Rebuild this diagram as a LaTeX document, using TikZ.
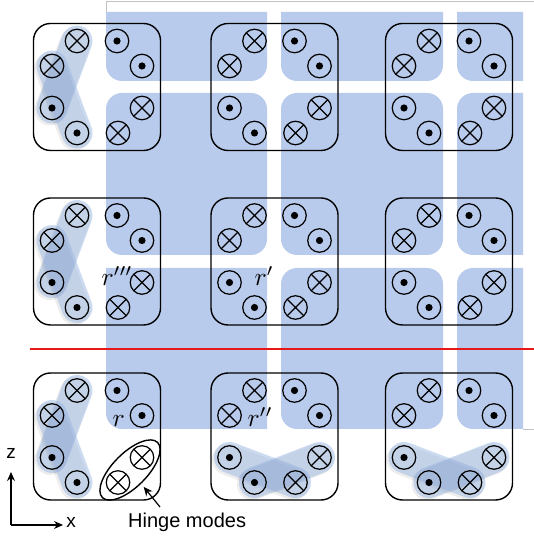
\documentclass[tikz,border=0pt]{standalone}
\usepackage{fontspec}
\newfontfamily\labelfont{Liberation Sans}
\usetikzlibrary{shapes.geometric,arrows.meta,calc}

\definecolor{tileblue}{RGB}{184,203,236}
\definecolor{capblue}{RGB}{150,180,225}
\definecolor{framegray}{RGB}{195,195,195}
\definecolor{linered}{RGB}{232,24,24}

\pgfdeclarelayer{tiles}
\pgfdeclarelayer{caps}
\pgfsetlayers{tiles,caps,main}

\tikzset{
  cellbox/.style={draw=black, line width=1.4pt, rounded corners=17pt,
    minimum width=127pt, minimum height=127pt, inner sep=0pt},
  wire/.style={circle, draw=black, line width=1.2pt, minimum size=23.5pt, inner sep=0pt},
  crossw/.style={wire, path picture={
      \draw[line width=1.2pt]
        (path picture bounding box.north west) -- (path picture bounding box.south east)
        (path picture bounding box.north east) -- (path picture bounding box.south west);}},
  dotw/.style={wire, path picture={
      \fill (path picture bounding box.center) circle (3.6pt);}},
  capsule/.style={line width=31pt, line cap=round, draw=capblue, draw opacity=0.48},
  capshadow/.style={line width=31pt, line cap=round, draw=black, draw opacity=0.07,
    transform canvas={shift={(-2pt,-2pt)}}},
  mathlabel/.style={anchor=base west, inner sep=0pt, scale=2.55},
  sanslabel/.style={inner sep=0pt, font=\labelfont\fontsize{20}{24}\selectfont},
  axislabel/.style={anchor=base, inner sep=0pt, font=\labelfont\fontsize{19}{22}\selectfont},
  pointer/.style={line width=1.2pt, -{Stealth[length=9pt,width=8pt]}},
}

% blue tile: x1 x2 y1 y2, then corner radii tl tr br bl
\newcommand{\bluetile}[8]{%
  \fill[tileblue] (#1+#5,#4) -- (#2-#6,#4) arc[start angle=90,end angle=0,radius=#6]
    -- (#2,#3+#7) arc[start angle=0,end angle=-90,radius=#7]
    -- (#1+#8,#3) arc[start angle=270,end angle=180,radius=#8]
    -- (#1,#4-#5) arc[start angle=180,end angle=90,radius=#5] -- cycle;}

% one unit cell: name, centre x, centre y
\newcommand{\unitcell}[3]{%
  \node[cellbox] (#1) at (#2,#3) {};
  \begin{scope}[shift={(#2,#3)}]
    \node[crossw] (#1-tl) at (-20,46) {};
    \node[dotw]   (#1-tr) at (20,46) {};
    \node[crossw] (#1-lu) at (-45,21) {};
    \node[dotw]   (#1-ll) at (-45,-21) {};
    \node[dotw]   (#1-ru) at (45,21) {};
    \node[crossw] (#1-rl) at (45,-21) {};
    \node[dotw]   (#1-bl) at (-20,-46) {};
    \node[crossw] (#1-br) at (21,-46) {};
  \end{scope}}

% a shaded rod joining two circles
\newcommand{\rod}[2]{%
  \draw[capshadow] (#1.center) -- (#2.center);
  \draw[capsule] (#1.center) -- (#2.center);}

\begin{document}
\begin{tikzpicture}[x=1pt,y=1pt]
\useasboundingbox (0,0) rectangle (534,538);

% plate tiles with channels between them
\begin{pgfonlayer}{tiles}
  \def\R{16}
  \def\Z{0.01}
  \bluetile{106}{267}{457}{526}{\Z}{\Z}{\R}{\R}
  \bluetile{281}{443}{457}{526}{\Z}{\Z}{\R}{\R}
  \bluetile{457}{523}{457}{526}{\Z}{\Z}{\Z}{\R}
  \bluetile{106}{267}{283}{445}{\R}{\R}{\R}{\R}
  \bluetile{281}{443}{283}{445}{\R}{\R}{\R}{\R}
  \bluetile{457}{523}{283}{445}{\R}{\Z}{\Z}{\R}
  \bluetile{106}{267}{109}{270}{\Z}{\Z}{\Z}{\R}
  \bluetile{281}{443}{109}{270}{\R}{\R}{\R}{\R}
  \bluetile{457}{523}{109}{270}{\R}{\Z}{\Z}{\R}
  \draw[framegray, line width=0.8pt] (106,526) -- (106,537) -- (534,537);
  \draw[framegray, line width=0.8pt] (523,109) -- (534,109);
\end{pgfonlayer}

% unit cells
\unitcell{c11}{97}{451}
\unitcell{c12}{274.5}{451}
\unitcell{c13}{449}{451}
\unitcell{c21}{97}{276.5}
\unitcell{c22}{274.5}{276.5}
\unitcell{c23}{449}{276.5}
\unitcell{c31}{97}{101.5}
\unitcell{c32}{274.5}{101.5}
\unitcell{c33}{449}{101.5}

% shaded rods
\begin{pgfonlayer}{caps}
  \rod{c11-tl}{c11-ll}\rod{c11-lu}{c11-bl}
  \rod{c21-tl}{c21-ll}\rod{c21-lu}{c21-bl}
  \rod{c31-tl}{c31-ll}\rod{c31-lu}{c31-bl}
  \rod{c32-ll}{c32-br}\rod{c32-bl}{c32-rl}
  \rod{c33-ll}{c33-br}\rod{c33-bl}{c33-rl}
\end{pgfonlayer}

% corner labels
\node[mathlabel] (lr3) at (101,252) {$r'''$};
\node[mathlabel] (lr1) at (254,252) {$r'$};
\node[mathlabel] (lr0) at (112,111) {$r$};
\node[mathlabel] (lr2) at (247,111) {$r''$};

% dividing line
\coordinate (redL) at (30,189);
\coordinate (redR) at (534,189);
\draw[linered, line width=2pt] (redL) -- (redR);

% hinge modes
\node[draw=black, line width=1.4pt, ellipse, minimum width=78pt, minimum height=34pt,
  inner sep=0pt, rotate=45] (hinge) at (130,68) {};
\node[sanslabel, anchor=base west] (hingelabel) at (128,10.7) {Hinge modes};
\coordinate (hingetail) at (160,31);
\draw[pointer, shorten >=4pt] (hingetail) -- (hinge);

% axes
\coordinate (origin) at (11,13);
\coordinate (zend) at (11,66);
\coordinate (xend) at (63,13);
\draw[pointer] (origin) -- (zend);
\draw[pointer] (origin) -- (xend);
\node[axislabel] (zlab) at (11,79) {z};
\node[axislabel] (xlab) at (71,10) {x};
\end{tikzpicture}
\end{document}
